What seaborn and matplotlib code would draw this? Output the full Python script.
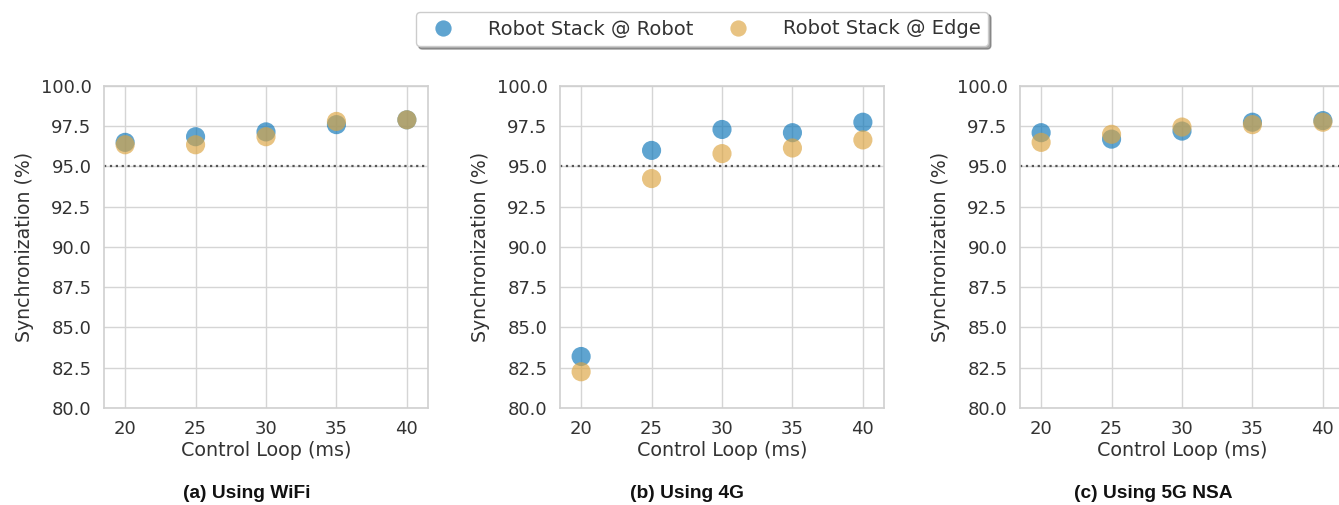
import numpy as np
import pandas as pd
import matplotlib
matplotlib.use("Agg")
import matplotlib.pyplot as plt
import seaborn as sns

# Control loop periods (ms)
control_loop = [20, 25, 30, 35, 40]

# Synchronization (%) per network, robot stack running on the robot vs. on the edge
wifi_robot = [96.5, 96.85, 97.15, 97.6, 97.9]
wifi_edge = [96.35, 96.35, 96.85, 97.8, 97.9]
lte_robot = [83.2, 96.0, 97.3, 97.1, 97.75]
lte_edge = [82.25, 94.25, 95.8, 96.15, 96.65]
nr_robot = [97.1, 96.7, 97.2, 97.75, 97.85]
nr_edge = [96.5, 97.0, 97.45, 97.6, 97.75]

series_names = ["Robot Stack @ Robot", "Robot Stack @ Edge"]
panel_titles = ["(a) Using WiFi", "(b) Using 4G", "(c) Using 5G NSA"]
threshold = 95.0

sns.set_theme(style="whitegrid", context="notebook")
plt.rcParams["font.family"] = ["DejaVu Sans"]
plt.rcParams["axes.edgecolor"] = "#d0d0d0"
plt.rcParams["grid.color"] = "#d5d5d5"

palette = {series_names[0]: "#0a74b8", series_names[1]: "#dca440"}

fig = plt.figure(figsize=(13.39, 5.05), dpi=100)
W, H = 1339, 505
ax_lefts = [104, 560, 1020]
ax_w, ax_top, ax_bottom = 324, 86, 408
title_x = [247, 687, 1153]

panels = [(wifi_robot, wifi_edge), (lte_robot, lte_edge), (nr_robot, nr_edge)]
axes = []
for i, (robot, edge) in enumerate(panels):
    ax = fig.add_axes([ax_lefts[i] / W, 1 - ax_bottom / H, ax_w / W, (ax_bottom - ax_top) / H])
    df = pd.DataFrame({
        "Control Loop (ms)": control_loop * 2,
        "Synchronization (%)": robot + edge,
        "Setup": [series_names[0]] * len(robot) + [series_names[1]] * len(edge),
    })
    sns.scatterplot(data=df, x="Control Loop (ms)", y="Synchronization (%)", hue="Setup",
                    palette=palette, s=190, alpha=0.65, linewidth=0, ax=ax, legend=(i == 0))
    ax.axhline(threshold, color="#555555", linestyle=":", linewidth=1.6, zorder=1)
    ax.set_xlim(18.5, 41.5)
    ax.set_ylim(80, 100)
    ax.set_xticks(control_loop)
    ax.set_yticks(np.arange(80, 100.1, 2.5))
    ax.yaxis.set_major_formatter(matplotlib.ticker.FormatStrFormatter("%.1f"))
    ax.tick_params(axis="both", labelsize=13, colors="#333333", pad=3)
    ax.set_xlabel("Control Loop (ms)", fontsize=13.8, color="#333333", labelpad=2)
    ax.set_ylabel("Synchronization (%)", fontsize=13.6, color="#333333", labelpad=5)
    for sp in ax.spines.values():
        sp.set_linewidth(1.2)
    fig.text(title_x[i] / W, 1 - 493 / H, panel_titles[i], ha="center", va="center",
             fontsize=13.8, fontweight="bold", family="Liberation Sans", color="#111111")
    axes.append(ax)

handles, labels = axes[0].get_legend_handles_labels()
axes[0].get_legend().remove()
leg = fig.legend(handles, labels, loc="center", bbox_to_anchor=(702 / W, 1 - 29 / H), ncol=2,
                 fontsize=14, frameon=True, shadow=True, fancybox=True, handletextpad=1.3,
                 columnspacing=1.3, borderpad=0.4, markerscale=0.85)
for t in leg.get_texts():
    t.set_color("#333333")
leg.get_frame().set_edgecolor("#cccccc")
leg.get_frame().set_facecolor("white")

fig.savefig("out.png", dpi=100)
